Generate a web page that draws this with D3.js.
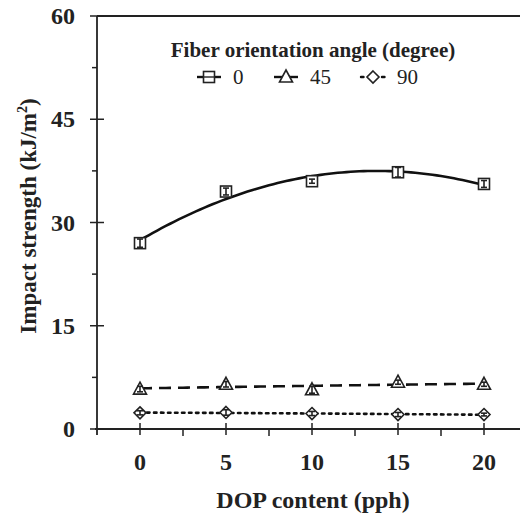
<!DOCTYPE html>
<html>
<head>
<meta charset="utf-8">
<script src="https://cdn.jsdelivr.net/npm/d3@7"></script>
<style>
  body { margin: 0; background: #fff; }
  text { font-family: "Liberation Serif", "Times New Roman", serif; fill: #222; }
</style>
</head>
<body>
<div id="chart"></div>
<script>
// data
const dop = [0, 5, 10, 15, 20];
const angle0 = [27.0, 34.5, 36.0, 37.3, 35.6];
const angle45 = [5.8, 6.5, 5.7, 6.8, 6.5];
const angle90 = [2.35, 2.4, 2.25, 2.1, 2.1];
const err0 = [0.6, 0.5, 0.3, 0.7, 0.5];
const err45 = [0.4, 0.4, 0.5, 0.3, 0.3];
const err90 = [0.3, 0.4, 0.3, 0.3, 0.2];
const xTicks = [0, 5, 10, 15, 20];
const yTicks = [0, 15, 30, 45, 60];
const legendLabels = ["0", "45", "90"];

const W = 520, H = 517;

const svg = d3.select("#chart")
    .append("svg")
    .attr("width", W)
    .attr("height", H);

const x = d3.scaleLinear().domain([-2.5, 22.5]).range([97, 527]);
const y = d3.scaleLinear().domain([0, 60]).range([429, 16]);

// least squares quadratic trendline
function quadFit(xs, ys) {
    const n = xs.length;
    let s = [0, 0, 0, 0, 0], t = [0, 0, 0];
    xs.forEach((xi, i) => {
        for (let k = 0; k < 5; k++) s[k] += Math.pow(xi, k);
        for (let k = 0; k < 3; k++) t[k] += Math.pow(xi, k) * ys[i];
    });
    const A = [[s[0], s[1], s[2]], [s[1], s[2], s[3]], [s[2], s[3], s[4]]];
    const det = m => m[0][0] * (m[1][1] * m[2][2] - m[1][2] * m[2][1])
        - m[0][1] * (m[1][0] * m[2][2] - m[1][2] * m[2][0])
        + m[0][2] * (m[1][0] * m[2][1] - m[1][1] * m[2][0]);
    const D = det(A);
    const coef = [0, 1, 2].map(c => {
        const M = A.map((row, r) => row.map((v, j) => j === c ? t[r] : v));
        return det(M) / D;
    });
    return v => coef[0] + coef[1] * v + coef[2] * v * v;
}

const series = [
    { values: angle0, err: err0, symbol: "square", dash: null, label: legendLabels[0] },
    { values: angle45, err: err45, symbol: "triangle", dash: "12,7", label: legendLabels[1] },
    { values: angle90, err: err90, symbol: "diamond", dash: "2.5,4.5", label: legendLabels[2] }
];

function drawMarker(g, type, cx, cy) {
    if (type === "square") {
        g.append("rect").attr("x", cx - 5.5).attr("y", cy - 5.5)
            .attr("width", 11).attr("height", 11)
            .attr("fill", "#fff").attr("stroke", "#222").attr("stroke-width", 1.6);
    } else if (type === "triangle") {
        g.append("path")
            .attr("d", `M${cx},${cy - 7}L${cx + 6.5},${cy + 5}L${cx - 6.5},${cy + 5}Z`)
            .attr("fill", "#fff").attr("stroke", "#222").attr("stroke-width", 1.6);
    } else {
        g.append("path")
            .attr("d", `M${cx},${cy - 6}L${cx + 6},${cy}L${cx},${cy + 6}L${cx - 6},${cy}Z`)
            .attr("fill", "#fff").attr("stroke", "#222").attr("stroke-width", 1.6);
    }
}

// axes frame
const axisColor = "#222";
svg.append("line").attr("x1", x(-2.5)).attr("x2", W).attr("y1", y(60)).attr("y2", y(60))
    .attr("stroke", axisColor).attr("stroke-width", 1.8);
svg.append("line").attr("x1", x(-2.5)).attr("x2", x(-2.5)).attr("y1", y(60)).attr("y2", y(0) + 6)
    .attr("stroke", axisColor).attr("stroke-width", 1.8);
svg.append("line").attr("x1", x(-2.5) - 2).attr("x2", W).attr("y1", y(0)).attr("y2", y(0))
    .attr("stroke", axisColor).attr("stroke-width", 1.8);

// y ticks
d3.range(0, 61, 7.5).forEach(v => {
    const major = v % 15 === 0;
    svg.append("line")
        .attr("x1", x(-2.5) - (major ? 7 : 5)).attr("x2", x(-2.5) + (major ? 7 : 0))
        .attr("y1", y(v)).attr("y2", y(v))
        .attr("stroke", axisColor).attr("stroke-width", 1.5);
});
svg.selectAll(".ytick").data(yTicks).enter().append("text")
    .attr("x", 75).attr("y", d => y(d) + 8)
    .attr("text-anchor", "end")
    .attr("font-size", 24).attr("font-weight", "bold")
    .text(d => d);

// x ticks
d3.range(0, 22.6, 2.5).forEach(v => {
    const major = v % 5 === 0;
    svg.append("line")
        .attr("x1", x(v)).attr("x2", x(v))
        .attr("y1", y(0) - (major ? 6 : 0)).attr("y2", y(0) + (major ? 6 : 7))
        .attr("stroke", axisColor).attr("stroke-width", 1.5);
});
svg.selectAll(".xtick").data(xTicks).enter().append("text")
    .attr("x", d => x(d)).attr("y", 470)
    .attr("text-anchor", "middle")
    .attr("font-size", 24).attr("font-weight", "bold")
    .text(d => d);

// axis titles
svg.append("text")
    .attr("x", 313).attr("y", 508)
    .attr("text-anchor", "middle")
    .attr("font-size", 24).attr("font-weight", "bold")
    .text("DOP content (pph)");

const yt = svg.append("text")
    .attr("transform", "translate(36,216) rotate(-90)")
    .attr("text-anchor", "middle")
    .attr("font-size", 23).attr("font-weight", "bold");
yt.append("tspan").text("Impact strength (kJ/m");
yt.append("tspan").attr("font-size", 14).attr("dy", -9).text("2");
yt.append("tspan").attr("dy", 9).text(")");

// trendlines
const fine = d3.range(0, 20.01, 0.25);
series.forEach(s => {
    const f = quadFit(dop, s.values);
    svg.append("path")
        .datum(fine)
        .attr("d", d3.line().x(d => x(d)).y(d => y(f(d))))
        .attr("fill", "none")
        .attr("stroke", "#111")
        .attr("stroke-width", 2.6)
        .attr("stroke-dasharray", s.dash)
        .attr("stroke-linecap", s.symbol === "diamond" ? "round" : "butt");
});

// markers with error bars
series.forEach(s => {
    const g = svg.append("g");
    dop.forEach((d, i) => {
        const cx = x(d), cy = y(s.values[i]);
        drawMarker(g, s.symbol, cx, cy);
        const y1 = y(s.values[i] + s.err[i]), y2 = y(s.values[i] - s.err[i]);
        g.append("line").attr("x1", cx).attr("x2", cx).attr("y1", y1).attr("y2", y2)
            .attr("stroke", "#222").attr("stroke-width", 1.6);
        [y1, y2].forEach(yy => g.append("line")
            .attr("x1", cx - 3).attr("x2", cx + 3).attr("y1", yy).attr("y2", yy)
            .attr("stroke", "#222").attr("stroke-width", 1.6));
    });
});

// legend
svg.append("text")
    .attr("x", 313).attr("y", 57)
    .attr("text-anchor", "middle")
    .attr("font-size", 21).attr("font-weight", "bold")
    .text("Fiber orientation angle (degree)");

const legendX = [209, 286, 373];
series.forEach((s, i) => {
    const cx = legendX[i], cy = 77;
    svg.append("line")
        .attr("x1", cx - 12).attr("x2", cx + 12).attr("y1", cy).attr("y2", cy)
        .attr("stroke", "#111").attr("stroke-width", 2.4)
        .attr("stroke-dasharray", s.symbol === "diamond" ? "2.5,4.5" : null)
        .attr("stroke-linecap", s.symbol === "diamond" ? "round" : "butt");
    const g = svg.append("g");
    drawMarker(g, s.symbol, cx, cy);
    if (s.symbol === "square") {
        g.append("line").attr("x1", cx - 5.5).attr("x2", cx + 5.5).attr("y1", cy).attr("y2", cy)
            .attr("stroke", "#222").attr("stroke-width", 1.4);
    }
    svg.append("text")
        .attr("x", cx + 24).attr("y", cy + 7)
        .attr("font-size", 21)
        .text(s.label);
});
</script>
</body>
</html>
